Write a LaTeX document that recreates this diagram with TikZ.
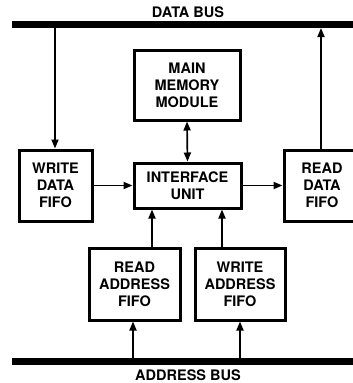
\documentclass[tikz,border=0pt]{standalone}
\usepackage{fontspec}
\setmainfont{TeX Gyre Heros}
\usetikzlibrary{arrows.meta}
\begin{document}
\begin{tikzpicture}[x=1pt,y=-1pt,
  box/.style={draw,line width=3pt,inner sep=0pt,align=center,font=\bfseries\fontsize{14.5}{17}\selectfont},
  bus/.style={line width=7pt},
  conn/.style={line width=1.7pt,-{Triangle[length=9pt,width=7pt]}},
  conn2/.style={line width=1.7pt,{Triangle[length=9pt,width=7pt]}-{Triangle[length=9pt,width=7pt]}},
  lbl/.style={font=\bfseries\fontsize{14.5}{17}\selectfont,inner sep=0pt}]
\useasboundingbox (0,0) rectangle (353,383);
\fill[white] (0,0) rectangle (353,383);
% buses
\coordinate (db0) at (12,24.5);
\coordinate (db1) at (360,24.5);
\draw[bus] (db0) -- (db1);
\node[lbl] (dbl) at (188,12) {DATA BUS};
\coordinate (ab0) at (12,361.5);
\coordinate (ab1) at (360,361.5);
\draw[bus] (ab0) -- (ab1);
\node[lbl] (abl) at (188,375) {ADDRESS BUS};
% boxes
\node[box,minimum width=106pt,minimum height=70pt] (mem) at (187,85) {MAIN\\MEMORY\\MODULE};
\node[box,minimum width=107pt,minimum height=45pt] (iu) at (187.5,185.5) {INTERFACE\\UNIT};
\node[box,minimum width=73pt,minimum height=71pt] (wdf) at (55.5,185.5) {WRITE\\DATA\\FIFO};
\node[box,minimum width=76pt,minimum height=71pt,text width=66pt] (rdf) at (322,185.5) {READ\\DATA\\FIFO};
\node[box,minimum width=91pt,minimum height=72pt] (raf) at (134.5,284) {READ\\ADDRESS\\FIFO};
\node[box,minimum width=90pt,minimum height=72pt] (waf) at (240,284) {WRITE\\ADDRESS\\FIFO};
% connectors
\coordinate (wdtop) at (55,28);
\draw[conn] (wdtop) -- (wdf.north -| wdtop);
\coordinate (rdtop) at (321,28);
\draw[conn] (rdf.north -| rdtop) -- (rdtop);
\draw[conn2] (mem.south) -- (iu.north);
\draw[conn] (wdf.east |- iu.west) -- (iu.west);
\draw[conn] (iu.east) -- (rdf.west |- iu.east);
\coordinate (c1) at (152,0);
\coordinate (c2) at (222,0);
\draw[conn] (raf.north -| c1) -- (iu.south -| c1);
\draw[conn] (waf.north -| c2) -- (iu.south -| c2);
\coordinate (ra) at (133,358);
\coordinate (wa) at (240,358);
\draw[conn] (ra) -- (raf.south -| ra);
\draw[conn] (wa) -- (waf.south -| wa);
\end{tikzpicture}
\end{document}
